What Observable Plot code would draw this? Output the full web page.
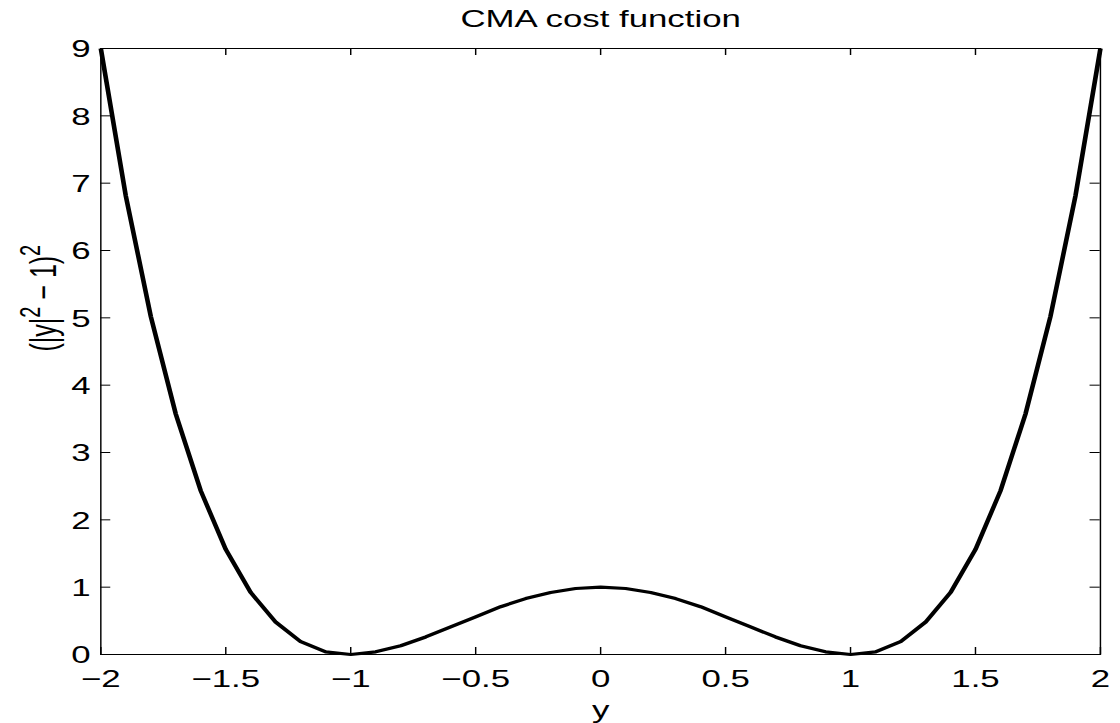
<!DOCTYPE html>
<html>
<head>
<meta charset="utf-8">
<script src="https://cdn.jsdelivr.net/npm/d3@7"></script>
<script src="https://cdn.jsdelivr.net/npm/@observablehq/plot@0.6"></script>
<style>
  html, body { margin: 0; padding: 0; background: #fff; overflow: hidden; }
  #chart { width: 1120px; height: 723px; position: relative; }
  #chart svg { position: absolute; left: 0; top: 0; transform-origin: 0 0; }
</style>
</head>
<body>
<div id="chart"></div>
<script>
// ---- data ----
const xValues = [-2, -1.9, -1.8, -1.7, -1.6, -1.5, -1.4, -1.3, -1.2, -1.1, -1, -0.9, -0.8, -0.7, -0.6, -0.5, -0.4, -0.3, -0.2, -0.1,
  0, 0.1, 0.2, 0.3, 0.4, 0.5, 0.6, 0.7, 0.8, 0.9, 1, 1.1, 1.2, 1.3, 1.4, 1.5, 1.6, 1.7, 1.8, 1.9, 2];
const costValues = [9, 6.81, 5.02, 3.57, 2.43, 1.56, 0.92, 0.48, 0.19, 0.04, 0, 0.04, 0.13, 0.26, 0.41, 0.56, 0.71, 0.83, 0.92, 0.98,
  1, 0.98, 0.92, 0.83, 0.71, 0.56, 0.41, 0.26, 0.13, 0.04, 0, 0.04, 0.19, 0.48, 0.92, 1.56, 2.43, 3.57, 5.02, 6.81, 9];
const xTicks = [-2, -1.5, -1, -0.5, 0, 0.5, 1, 1.5, 2];
const xTickLabels = ["−2", "−1.5", "−1", "−0.5", "0", "0.5", "1", "1.5", "2"];
const yTicks = [0, 1, 2, 3, 4, 5, 6, 7, 8, 9];
const yTickLabels = ["0", "1", "2", "3", "4", "5", "6", "7", "8", "9"];
const titleText = "CMA cost function";
const xLabelText = "y";
const yLabelText = "(|y|2 − 1)2";
const yLabelParts = [["(|y|", false], ["2", true], [" − 1)", false], ["2", true]];

// ---- layout ----
const SX = 1.4508;            // horizontal stretch of the reference
const W = 772, H = 723;
const mL = 69, mR = 14, mT = 48, mB = 69;
const frameW = W - mL - mR, frameH = H - mT - mB;
const tick = 7;
const font = "'Liberation Sans', Arial, Helvetica, sans-serif";

const curve = xValues.map((x, i) => ({x, y: costValues[i]}));

const chart = Plot.plot({
  width: W,
  height: H,
  marginLeft: mL, marginRight: mR, marginTop: mT, marginBottom: mB,
  x: {domain: [-2, 2], axis: null},
  y: {domain: [0, 9], axis: null},
  style: {fontFamily: font, fontSize: "24px", background: "white", color: "black", overflow: "visible"},
  marks: [
    Plot.frame({stroke: "black", strokeWidth: 1}),
    // ticks inside the box on all four sides
    Plot.ruleX(xTicks, {x: d => d, insetTop: frameH - tick, stroke: "black", strokeWidth: 1}),
    Plot.ruleX(xTicks, {x: d => d, insetBottom: frameH - tick, stroke: "black", strokeWidth: 1}),
    Plot.ruleY(yTicks, {y: d => d, insetRight: frameW - tick, stroke: "black", strokeWidth: 1}),
    Plot.ruleY(yTicks, {y: d => d, insetLeft: frameW - tick, stroke: "black", strokeWidth: 1}),
    Plot.line(curve, {x: "x", y: "y", stroke: "black", strokeWidth: 3.2, strokeLinejoin: "round", strokeLinecap: "butt"}),
    // tick labels
    Plot.text(xTicks, {x: d => d, text: (d, i) => xTickLabels[i], frameAnchor: "bottom", lineAnchor: "top", dy: 15, fontSize: 24, fill: "black"}),
    Plot.text(yTicks, {y: d => d, text: (d, i) => yTickLabels[i], frameAnchor: "left", textAnchor: "end", lineAnchor: "middle", dx: -7, dy: 1, fontSize: 24, fill: "black"}),
    // title and axis labels
    Plot.text([titleText], {text: d => d, frameAnchor: "top", lineAnchor: "bottom", dy: -22, fontSize: 24, fill: "black"}),
    Plot.text([xLabelText], {text: d => d, frameAnchor: "bottom", lineAnchor: "bottom", dy: 63, fontSize: 24, fill: "black"}),
    Plot.text([yLabelText], {text: d => d, frameAnchor: "left", lineAnchor: "bottom", rotate: -90, dx: -31, fontSize: 25, fill: "black"})
  ]
});

document.getElementById("chart").appendChild(chart);
chart.style.transform = `scaleX(${SX})`;
chart.style.maxWidth = "none";

// superscripts in the y label
const ns = "http://www.w3.org/2000/svg";
const yl = [...chart.querySelectorAll("text")].find(e => e.textContent === yLabelText);
if (yl) {
  yl.textContent = "";
  let prevSup = false;
  for (const [s, sup] of yLabelParts) {
    const ts = document.createElementNS(ns, "tspan");
    ts.textContent = s;
    if (sup) { ts.setAttribute("font-size", "20"); ts.setAttribute("dy", "-11"); }
    else if (prevSup) { ts.setAttribute("dy", "11"); }
    yl.appendChild(ts);
    prevSup = sup;
  }
}
</script>
</body>
</html>
